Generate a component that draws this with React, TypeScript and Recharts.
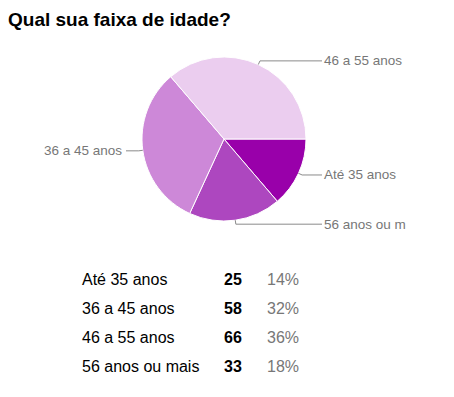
import { PieChart, Pie, Cell } from "recharts"

const categories = ["Até 35 anos", "36 a 45 anos", "46 a 55 anos", "56 anos ou mais"]
// pie labels as the chart shows them (the last one is cut short)
const pieLabels = ["Até 35 anos", "36 a 45 anos", "46 a 55 anos", "56 anos ou m"]
const counts = [25, 58, 66, 33]
const percents = ["14%", "32%", "36%", "18%"]
const colors = ["#9900aa", "#cd88d8", "#ebcdef", "#ad47bf"]
// order the slices run clockwise from 3 o'clock
const pieOrder = [0, 3, 1, 2]

const FONT = "Arial, 'Liberation Sans', sans-serif"
const RAD = Math.PI / 180

const pieData = pieOrder.map((i) => ({
  name: pieLabels[i],
  value: counts[i],
  color: colors[i],
}))

function renderLabel(props: any) {
  const { cx, cy, midAngle, outerRadius, name } = props
  const cos = Math.cos(-midAngle * RAD)
  const sin = Math.sin(-midAngle * RAD)
  const sx = cx + outerRadius * cos
  const sy = cy + outerRadius * sin
  const mx = cx + (outerRadius + 4) * cos
  const my = cy + (outerRadius + 4) * sin
  const right = cos >= 0
  const ex = right ? cx + outerRadius + 16 : cx - outerRadius - 16
  return (
    <g>
      <polyline
        points={`${sx},${sy} ${mx},${my} ${ex},${my}`}
        fill="none"
        stroke="#8a8a8a"
        strokeWidth={1}
      />
      <text
        x={right ? ex + 2 : ex - 4}
        y={my}
        textAnchor={right ? "start" : "end"}
        dominantBaseline="central"
        fill="#777"
        fontSize={13.5}
        fontFamily={FONT}
      >
        {name}
      </text>
    </g>
  )
}

export default function App() {
  return (
    <div
      style={{
        position: "absolute",
        left: 0,
        top: 0,
        width: 454,
        height: 397,
        background: "#fff",
        fontFamily: FONT,
      }}
    >
      <div
        style={{
          position: "absolute",
          left: 8,
          top: 8,
          fontSize: 19,
          fontWeight: "bold",
          color: "#000",
          lineHeight: "24px",
          whiteSpace: "nowrap",
        }}
      >
        Qual sua faixa de idade?
      </div>
      <div style={{ position: "absolute", left: 0, top: 0 }}>
        <PieChart width={440} height={250} margin={{ top: 0, right: 0, bottom: 0, left: 0 }}>
          <Pie
            data={pieData}
            dataKey="value"
            nameKey="name"
            cx={224}
            cy={139}
            outerRadius={82}
            startAngle={0}
            endAngle={-360}
            stroke="#fff"
            strokeWidth={1}
            label={renderLabel}
            labelLine={false}
            isAnimationActive={false}
          >
            {pieData.map((d, i) => (
              <Cell key={`cell-${i}`} fill={d.color} />
            ))}
          </Pie>
        </PieChart>
      </div>
      <div style={{ position: "absolute", left: 0, top: 265, fontSize: 16 }}>
        {categories.map((c, i) => (
          <div key={c} style={{ position: "relative", height: 29, lineHeight: "29px" }}>
            <span style={{ position: "absolute", left: 82, color: "#000", whiteSpace: "nowrap" }}>{c}</span>
            <span style={{ position: "absolute", left: 224, color: "#000", fontWeight: "bold" }}>{counts[i]}</span>
            <span style={{ position: "absolute", left: 267, color: "#777" }}>{percents[i]}</span>
          </div>
        ))}
      </div>
    </div>
  )
}
